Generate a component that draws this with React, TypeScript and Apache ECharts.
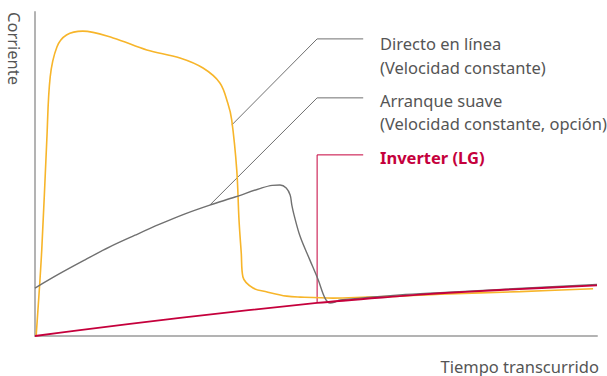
import React, { useEffect, useRef } from "react";
import * as echarts from "echarts";

// Time (0-100) vs current (0-100), arbitrary units
const directOnLine: [number, number][] = [
  [0.2, 0], [1.2, 26.5], [2.1, 60.5], [2.7, 79.9], [3.9, 89.2], [5.6, 92.9],
  [8.5, 94.1], [13.9, 92], [19.9, 88.3], [25.8, 85.8], [29.9, 82.7], [32.9, 78.1],
  [34.3, 71.9], [35.0, 66.7], [35.9, 51.2], [36.3, 35.8], [36.7, 25.6], [37.0, 18.2],
  [38.8, 14.8], [41.3, 13.6], [44.8, 12.3], [47.2, 12.0], [53.0, 11.7], [59.1, 12.0],
  [64.9, 12.3], [72.1, 12.9], [86.3, 13.7], [99.3, 14.6],
];
const softStart: [number, number][] = [
  [0, 14.8], [4.45, 19.3], [8.9, 23.5], [13.3, 27.5], [17.8, 31.1], [22.2, 34.5],
  [26.7, 37.7], [31.1, 40.4], [35.6, 42.9], [40.0, 45.5], [42.2, 46.5], [43.6, 46.6],
  [44.7, 45.7], [45.4, 43.5], [45.7, 40.4], [46.1, 37.3], [47.2, 30.6], [48.9, 23.5],
  [50.4, 17.3], [51.6, 11.7], [52.5, 10.2], [53.4, 10.5], [54.3, 11.1],
  [64.9, 12.7], [72.1, 13.4], [100, 15.9],
];
const inverter: [number, number][] = [
  [0, 0], [8.0, 1.8], [25.8, 5.6], [50.2, 10.2], [64.9, 12.3], [72.1, 13.2],
  [82.7, 14.2], [100, 15.6],
];
// Leader lines (data units)
const leaderDirect: [number, number][] = [[58.4, 91.7], [50.2, 91.7], [35.0, 65.1]];
const leaderSoft: [number, number][] = [[58.4, 73.5], [50.2, 73.5], [31.1, 40.4]];
const leaderInverter: [number, number][] = [[58.4, 55.9], [50.2, 55.9], [50.2, 10.2]];

const labelDirect = ["Directo en línea", "(Velocidad constante)"];
const labelSoft = ["Arranque suave", "(Velocidad constante, opción)"];
const labelInverter = "Inverter (LG)";
const yTitle = "Corriente";
const xTitle = "Tiempo transcurrido";

const YELLOW = "#f7b52a";
const GRAY = "#707070";
const RED = "#c5003c";
const TEXT = "#555555";
const FONT = "'Noto Sans', sans-serif";
const FS = 16.5;

export default function App() {
  const ref = useRef<HTMLDivElement>(null);
  useEffect(() => {
    if (!ref.current) return;
    const chart = echarts.init(ref.current, null, { renderer: "svg" });
    const leader = (data: [number, number][], color: string) => ({
      type: "line",
      data,
      symbol: "none",
      silent: true,
      lineStyle: { color, width: 1 },
      z: 1,
    });
    const txt = (text: string, x: number, y: number, extra: any = {}) => ({
      type: "text",
      x,
      y,
      style: {
        text,
        fill: TEXT,
        font: `${FS}px ${FONT}`,
        textVerticalAlign: "middle",
        ...extra,
      },
    });
    chart.setOption({
      animation: false,
      grid: { left: 35, right: 10, top: 12, bottom: 40 },
      xAxis: {
        type: "value",
        min: 0,
        max: 100,
        axisLine: { show: true, lineStyle: { color: "#b3b3b3", width: 2 } },
        axisTick: { show: false },
        axisLabel: { show: false },
        splitLine: { show: false },
      },
      yAxis: {
        type: "value",
        min: 0,
        max: 100,
        axisLine: { show: true, lineStyle: { color: "#b3b3b3", width: 2 } },
        axisTick: { show: false },
        axisLabel: { show: false },
        splitLine: { show: false },
      },
      series: [
        leader(leaderDirect, GRAY),
        leader(leaderSoft, GRAY),
        leader(leaderInverter, RED),
        {
          type: "line",
          data: directOnLine,
          symbol: "none",
          smooth: 0.35,
          lineStyle: { color: YELLOW, width: 1.6 },
          z: 2,
        },
        {
          type: "line",
          data: softStart,
          symbol: "none",
          smooth: 0.35,
          lineStyle: { color: GRAY, width: 1.4 },
          z: 3,
        },
        {
          type: "line",
          data: inverter,
          symbol: "none",
          smooth: 0.3,
          lineStyle: { color: RED, width: 1.8 },
          z: 4,
        },
      ],
      graphic: [
        txt(labelDirect[0], 380, 43),
        txt(labelDirect[1], 380, 67),
        txt(labelSoft[0], 380, 100),
        txt(labelSoft[1], 380, 123),
        txt(labelInverter, 380, 157, { fill: RED, font: `bold ${FS}px ${FONT}` }),
        txt(xTitle, 599, 366, { textAlign: "right" }),
        {
          type: "text",
          x: 14,
          y: 12,
          rotation: -Math.PI / 2,
          style: {
            text: yTitle,
            fill: TEXT,
            font: `${FS}px ${FONT}`,
            textAlign: "left",
            textVerticalAlign: "middle",
          },
        },
      ],
    });
    return () => chart.dispose();
  }, []);
  return <div ref={ref} style={{ width: 607, height: 376, position: "absolute", left: 0, top: 0 }} />;
}
